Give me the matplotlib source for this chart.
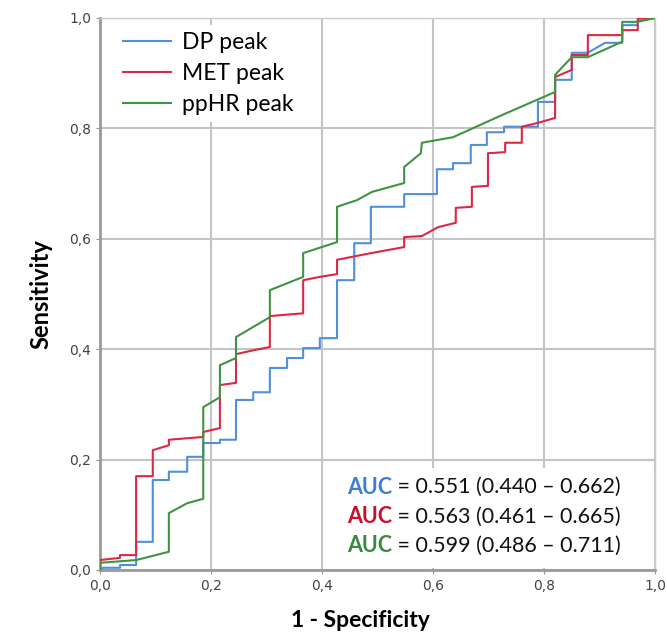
import matplotlib
matplotlib.use("Agg")
import matplotlib.pyplot as plt
import numpy as np

# ROC vertices (1 - specificity, sensitivity)
dp_roc = [(0, 0), (0.005, 0.004), (0.036, 0.004), (0.036, 0.009), (0.065, 0.009),
          (0.065, 0.051), (0.095, 0.051), (0.095, 0.163), (0.124, 0.163), (0.124, 0.178),
          (0.157, 0.178), (0.157, 0.205), (0.186, 0.205), (0.186, 0.230), (0.216, 0.230),
          (0.216, 0.236), (0.245, 0.236), (0.245, 0.308), (0.276, 0.308), (0.276, 0.322),
          (0.306, 0.322), (0.306, 0.366), (0.337, 0.366), (0.337, 0.384), (0.366, 0.384),
          (0.366, 0.402), (0.396, 0.402), (0.396, 0.420), (0.427, 0.420), (0.427, 0.525),
          (0.458, 0.525), (0.458, 0.592), (0.488, 0.592), (0.488, 0.658), (0.548, 0.658),
          (0.548, 0.681), (0.607, 0.681), (0.607, 0.726), (0.636, 0.726), (0.636, 0.737),
          (0.668, 0.737), (0.668, 0.770), (0.697, 0.770), (0.697, 0.793), (0.728, 0.793),
          (0.728, 0.803), (0.789, 0.803), (0.789, 0.848), (0.820, 0.848), (0.820, 0.888),
          (0.850, 0.888), (0.850, 0.937), (0.879, 0.937), (0.910, 0.955), (0.941, 0.955),
          (0.941, 0.987), (0.969, 0.987), (0.969, 0.996), (1.0, 1.0)]

met_roc = [(0, 0), (0, 0.018), (0.036, 0.022), (0.036, 0.027), (0.065, 0.027),
           (0.065, 0.170), (0.095, 0.170), (0.095, 0.217), (0.124, 0.226), (0.124, 0.236),
           (0.186, 0.241), (0.186, 0.250), (0.216, 0.257), (0.216, 0.335), (0.245, 0.339),
           (0.245, 0.391), (0.276, 0.398), (0.306, 0.404), (0.306, 0.460), (0.366, 0.465),
           (0.366, 0.525), (0.396, 0.531), (0.427, 0.536), (0.427, 0.562), (0.488, 0.574),
           (0.548, 0.585), (0.548, 0.603), (0.580, 0.605), (0.609, 0.621), (0.641, 0.629),
           (0.641, 0.656), (0.670, 0.658), (0.670, 0.694), (0.699, 0.696), (0.699, 0.755),
           (0.730, 0.757), (0.730, 0.774), (0.760, 0.774), (0.760, 0.803), (0.789, 0.810),
           (0.820, 0.819), (0.820, 0.893), (0.850, 0.906), (0.850, 0.933), (0.879, 0.933),
           (0.879, 0.969), (0.941, 0.969), (0.941, 0.978), (0.969, 0.978), (0.969, 1.0),
           (1.0, 1.0)]

pphr_roc = [(0, 0), (0, 0.013), (0.065, 0.018), (0.124, 0.033), (0.124, 0.103),
            (0.157, 0.121), (0.186, 0.129), (0.186, 0.295), (0.216, 0.313), (0.216, 0.371),
            (0.245, 0.384), (0.245, 0.422), (0.306, 0.458), (0.306, 0.507), (0.366, 0.531),
            (0.366, 0.574), (0.427, 0.594), (0.427, 0.658), (0.463, 0.670), (0.490, 0.685),
            (0.548, 0.701), (0.548, 0.730), (0.578, 0.755), (0.580, 0.774), (0.636, 0.784),
            (0.724, 0.824), (0.820, 0.866), (0.820, 0.897), (0.850, 0.929), (0.879, 0.929),
            (0.941, 0.957), (0.941, 0.993), (0.969, 0.993), (1.0, 1.0)]

labels = ['DP peak', 'MET peak', 'ppHR peak']
auc_text = ['= 0.551 (0.440 \u2013 0.662)',
            '= 0.563 (0.461 \u2013 0.665)',
            '= 0.599 (0.486 \u2013 0.711)']
line_colors = ['#4f8fdc', '#dc2844', '#3f9443']
auc_colors = ['#3a7fd5', '#c8102e', '#3a8a3e']

ticks = [0.0, 0.2, 0.4, 0.6, 0.8, 1.0]
tick_labels = ['0,0', '0,2', '0,4', '0,6', '0,8', '1,0']

fig = plt.figure(figsize=(6.67, 6.38), dpi=100)
ax = fig.add_axes([0.15, 0.1066, 0.832, 0.8652])

for roc, lab, col in zip([dp_roc, met_roc, pphr_roc], labels, line_colors):
    xy = np.array(roc)
    ax.plot(xy[:, 0], xy[:, 1], color=col, lw=1.5, label=lab, zorder=3)

ax.set_xlim(0, 1)
ax.set_ylim(0, 1)
ax.set_xticks(ticks)
ax.set_xticklabels(tick_labels)
ax.set_yticks(ticks)
ax.set_yticklabels(tick_labels)
ax.tick_params(labelsize=10, labelcolor='#444444', length=3, color='#999999')
ax.grid(True, color='#c4c4c4', lw=1.5, zorder=0)
ax.set_axisbelow(True)

for side in ['top', 'right']:
    ax.spines[side].set_color('#cccccc')
    ax.spines[side].set_linewidth(1)
for side in ['left', 'bottom']:
    ax.spines[side].set_color('#9a9a9a')
    ax.spines[side].set_linewidth(2)

ax.set_ylabel('Sensitivity', fontsize=17, fontweight='bold', family='Lato', labelpad=12)
ax.set_xlabel('1 - Specificity', fontsize=16.5, fontweight='bold', family='Lato')
ax.xaxis.set_label_coords(0.47, -0.072)

leg = ax.legend(loc='upper left', bbox_to_anchor=(0.016, 1.0), frameon=True,
                fancybox=False, framealpha=1, edgecolor='none', handlelength=2.1,
                handletextpad=0.5, borderaxespad=0.3, borderpad=0.3, labelspacing=0.45,
                prop={'family': 'Lato', 'size': 16.5})

# white box behind the AUC lines
ax.add_patch(plt.Rectangle((0.427, 0.004), 0.571, 0.18, transform=ax.transAxes,
                           facecolor='white', edgecolor='none', zorder=2))

for i, (txt, col) in enumerate(zip(auc_text, auc_colors)):
    y = 0.150 - i * 0.053
    t = ax.text(0.445, y, 'AUC', transform=ax.transAxes, color=col, fontsize=15.5,
                fontweight='bold', family='Lato', va='center', zorder=4)
    ax.annotate(' ' + txt, xy=(1, 0.5), xycoords=t, va='center', ha='left',
                fontsize=15.5, family='Lato', color='#111111', zorder=4)

fig.savefig('out.png', dpi=100)
